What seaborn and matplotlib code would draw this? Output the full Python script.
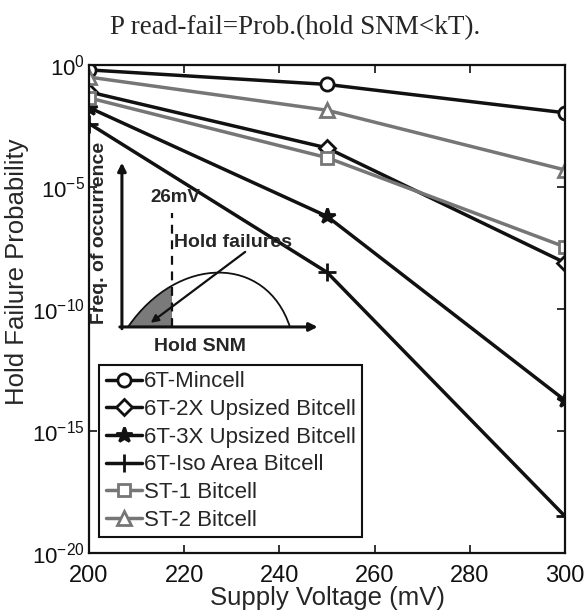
import numpy as np
import pandas as pd
import matplotlib
matplotlib.use("Agg")
import matplotlib.pyplot as plt
import seaborn as sns
from matplotlib.path import Path
from matplotlib.patches import PathPatch, Rectangle
from matplotlib.ticker import NullLocator, FixedLocator

# ---- data ----
voltage = [200, 250, 300]
mincell = [6.3e-1, 1.6e-1, 1.1e-2]
upsized_2x = [7.9e-2, 4.0e-4, 7.9e-9]
upsized_3x = [1.8e-2, 6.3e-7, 1.8e-14]
iso_area = [4.0e-3, 3.2e-9, 3.2e-19]
st1 = [4.5e-2, 1.6e-4, 3.5e-8]
st2 = [3.2e-1, 1.4e-2, 5.0e-5]

series_names = ["6T-Mincell", "6T-2X Upsized Bitcell", "6T-3X Upsized Bitcell",
                "6T-Iso Area Bitcell", "ST-1 Bitcell", "ST-2 Bitcell"]
series_values = [mincell, upsized_2x, upsized_3x, iso_area, st1, st2]
xticks = [200, 220, 240, 260, 280, 300]
ytick_exps = [0, -5, -10, -15, -20]

title_text = "P read-fail=Prob.(hold SNM<kT)."
xlabel = "Supply Voltage (mV)"
ylabel = "Hold Failure Probability"

# ---- style ----
sns.set_style("ticks")
plt.rcParams["font.family"] = ["Liberation Sans", "DejaVu Sans"]
plt.rcParams["mathtext.fontset"] = "custom"
plt.rcParams["mathtext.rm"] = "Liberation Sans"
plt.rcParams["mathtext.it"] = "Liberation Sans:italic"

black = "#111111"
gray = "#767676"
styles = {
    "6T-Mincell": dict(color=black, marker="o", mfc="white", ms=9.5),
    "6T-2X Upsized Bitcell": dict(color=black, marker="D", mfc="white", ms=8),
    "6T-3X Upsized Bitcell": dict(color=black, marker="*", mfc=black, ms=11.5),
    "6T-Iso Area Bitcell": dict(color=black, marker="+", mfc=black, ms=13),
    "ST-1 Bitcell": dict(color=gray, marker="s", mfc="white", ms=9),
    "ST-2 Bitcell": dict(color=gray, marker="^", mfc="white", ms=9.5),
}

fig = plt.figure(figsize=(5.87, 6.14), dpi=100)
ax = fig.add_axes([89 / 587, 1 - 553 / 614, 476 / 587, 488 / 614])

for name, vals in zip(series_names, series_values):
    df = pd.DataFrame({"Voltage": voltage, "Prob": vals})
    st = styles[name]
    sns.lineplot(data=df, x="Voltage", y="Prob", ax=ax, color=st["color"],
                 marker=st["marker"], markersize=st["ms"],
                 markerfacecolor=st["mfc"], markeredgecolor=st["color"],
                 markeredgewidth=2.0, linewidth=2.5, label=name)

ax.set_yscale("log")
ax.set_xlim(200, 300)
ax.set_ylim(1e-20, 1e0)
ax.xaxis.set_major_locator(FixedLocator(xticks))
ax.set_xticklabels([str(t) for t in xticks])
ax.yaxis.set_major_locator(FixedLocator([10.0 ** e for e in ytick_exps]))
ax.set_yticklabels([r"$\mathregular{10^{%d}}$" % e for e in ytick_exps])
ax.yaxis.set_minor_locator(NullLocator())
ax.xaxis.set_minor_locator(NullLocator())
ax.tick_params(direction="in", length=6, width=1.2, top=True, right=True,
               colors=black)
ax.tick_params(axis="x", labelsize=17, pad=9)
ax.tick_params(axis="y", labelsize=16, pad=3)
for sp in ax.spines.values():
    sp.set_linewidth(1.6)
    sp.set_color(black)
ax.set_xlabel(xlabel, fontsize=18.5, labelpad=-1)
ax.set_ylabel(ylabel, fontsize=18.5)
ax.yaxis.set_label_coords(-0.126, 0.576)

leg = ax.legend(loc="lower left", bbox_to_anchor=(0.022, 0.032), fontsize=16,
                frameon=True, fancybox=False, edgecolor=black, framealpha=1,
                handlelength=1.6, handletextpad=0.1, labelspacing=0.3,
                borderpad=0.3, borderaxespad=0)
leg.get_frame().set_linewidth(1.5)

fig.text(0.502, 0.955, title_text, ha="center", va="center", fontsize=19.5,
         family="Liberation Serif")

# ---- inset schematic ----
ins = fig.add_axes([115 / 587, 1 - 335 / 614, 210 / 587, 175 / 614])
ins.set_xlim(0, 1)
ins.set_ylim(0, 1)
ins.axis("off")
ins.patch.set_alpha(0)

x0, yb = 0.033, 0.046
ins.annotate("", xy=(x0, 0.985), xytext=(x0, yb - 0.01),
             arrowprops=dict(arrowstyle="-|>", lw=2.2, color=black,
                             mutation_scale=12, shrinkA=0, shrinkB=0),
             annotation_clip=False)
ins.annotate("", xy=(0.965, yb), xytext=(x0 - 0.01, yb),
             arrowprops=dict(arrowstyle="-|>", lw=2.2, color=black,
                             mutation_scale=12, shrinkA=0, shrinkB=0),
             annotation_clip=False)

verts = [(0.062, yb), (0.30, 0.46), (0.72, 0.46), (0.833, yb), (0.062, yb)]
codes = [Path.MOVETO, Path.CURVE4, Path.CURVE4, Path.CURVE4, Path.CLOSEPOLY]
shade = PathPatch(Path(verts, codes), facecolor="#7a7a7a", edgecolor="none")
ins.add_patch(shade)
clip = Rectangle((0, 0), 0.271, 1, transform=ins.transData)
shade.set_clip_path(clip)
ins.add_patch(PathPatch(Path(verts[:4], codes[:4]), facecolor="none",
                        edgecolor=black, lw=1.3))

ins.plot([0.271, 0.271], [yb, 0.70], ls=(0, (4, 3)), color=black, lw=1.6)
ins.text(0.286, 0.785, "26mV", ha="center", va="center", fontsize=13.5,
         fontweight="bold")
ins.text(0.56, 0.53, "Hold failures", ha="center", va="center", fontsize=14,
         fontweight="bold")
ins.annotate("", xy=(0.17, 0.07), xytext=(0.62, 0.475),
             arrowprops=dict(arrowstyle="-|>", lw=1.6, color=black,
                             mutation_scale=11, shrinkA=0, shrinkB=0))
ins.text(-0.075, 0.585, "Freq. of occurrence", rotation=90, ha="center",
         va="center", fontsize=14, fontweight="bold")
ins.text(0.405, -0.065, "Hold SNM", ha="center", va="center", fontsize=14,
         fontweight="bold")

fig.savefig("out.png", dpi=100, facecolor="white")
